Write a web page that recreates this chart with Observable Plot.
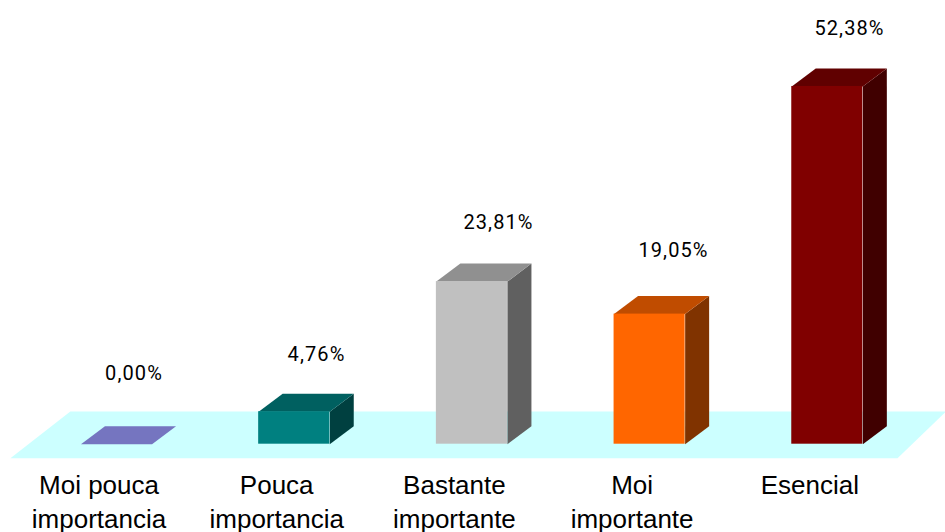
<!DOCTYPE html>
<html>
<head>
<meta charset="utf-8">
<script src="https://cdn.jsdelivr.net/npm/d3@7"></script>
<script src="https://cdn.jsdelivr.net/npm/@observablehq/plot@0.6"></script>
<style>
html,body{margin:0;padding:0;background:#fff}
svg{display:block}
.val text{letter-spacing:1.1px}
</style>
</head>
<body>
<div id="chart"></div>
<script>
const categories = ["Moi pouca\nimportancia", "Pouca\nimportancia", "Bastante\nimportante", "Moi\nimportante", "Esencial"];
const values = [0, 4.76, 23.81, 19.05, 52.38];
const frontColors = ["#7575c0", "#008080", "#c0c0c0", "#ff6600", "#800000"];
const topColors = ["#7575c0", "#006060", "#909090", "#c04c00", "#600000"];
const sideColors = ["#7575c0", "#004040", "#606060", "#803300", "#400000"];
const floorColor = "#ccffff";

// Label nudges in pixels, relative to the top of each bar's front face
const labelDx = [17.5, 22.3, 26.6, 23.9, 22.2];
const labelDy = [70.7, 57, 59, 64, 58];

// Bar geometry in scale units (category index, percent)
const halfWidth = 0.2;
const depthX = 0.135;
const depthY = 2.64;

const bars = values.map((value, i) => ({i, value, front: frontColors[i], top: topColors[i], side: sideColors[i]}));

const sides = bars.filter(b => b.value > 0).flatMap(b => [
  [b.i + halfWidth, 0], [b.i + halfWidth + depthX, depthY],
  [b.i + halfWidth + depthX, b.value + depthY], [b.i + halfWidth, b.value]
].map(([x, y]) => ({x, y, id: b.i, color: b.side})));

const tops = bars.flatMap(b => [
  [b.i - halfWidth, b.value], [b.i + halfWidth, b.value],
  [b.i + halfWidth + depthX, b.value + depthY], [b.i - halfWidth + depthX, b.value + depthY]
].map(([x, y]) => ({x, y, id: b.i, color: b.top})));

const floor = [
  {x: -0.597, y: -2.06}, {x: 4.395, y: -2.06},
  {x: 4.668, y: 4.8}, {x: -0.26, y: 4.8}
];

const chart = Plot.plot({
  width: 945,
  height: 532,
  margin: 0,
  x: {domain: [-0.6528, 4.6651], range: [0, 945], axis: null},
  y: {domain: [-12.93, 64.97], range: [532, 0], axis: null},
  style: {background: "#fff", overflow: "visible"},
  marks: [
    Plot.line(floor, {x: "x", y: "y", fill: floorColor, stroke: "none"}),
    Plot.line(sides, {x: "x", y: "y", z: "id", fill: "color", stroke: "none"}),
    Plot.line(tops, {x: "x", y: "y", z: "id", fill: "color", stroke: "none"}),
    Plot.rect(bars.filter(b => b.value > 0), {
      x1: b => b.i - halfWidth, x2: b => b.i + halfWidth,
      y1: 0, y2: "value", fill: "front"
    }),
    Plot.text(categories, {
      x: (d, i) => i, text: d => d, frameAnchor: "bottom", lineAnchor: "top",
      dx: -17.5, dy: -63, lineHeight: 1.31, fontSize: 26,
      fontFamily: "Liberation Sans, Arial, sans-serif", fill: "#000"
    }),
    ...values.map((value, i) => Plot.text([value], {
      x: () => i, y: d => d,
      text: d => d.toFixed(2).replace(".", ",") + "%",
      dx: labelDx[i], dy: -labelDy[i],
      fontSize: 20, fontFamily: "Roboto, sans-serif", fill: "#000",
      className: "val"
    }))
  ]
});
document.getElementById("chart").appendChild(chart);
</script>
</body>
</html>
